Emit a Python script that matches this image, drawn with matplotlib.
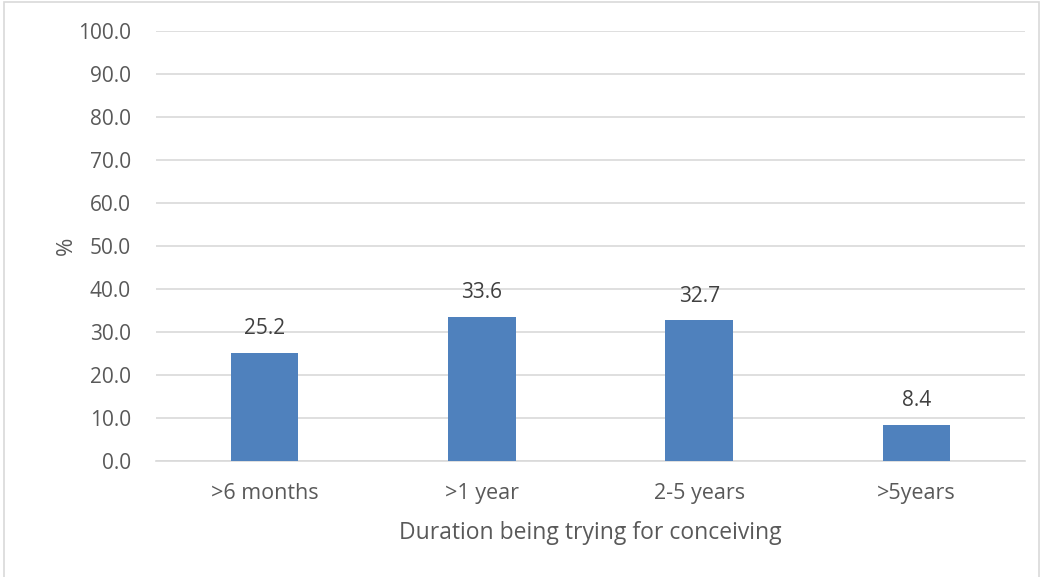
import matplotlib.pyplot as plt
from matplotlib.patches import Rectangle
import numpy as np

# Data
categories = ['>6 months', '>1 year', '2-5 years', '>5years']
percent = [25.2, 33.6, 32.7, 8.4]
yticks = np.arange(0, 101, 10)

plt.rcParams['font.family'] = ['Open Sans', 'DejaVu Sans']

fig = plt.figure(figsize=(10.43, 5.77), dpi=100)
ax = fig.add_axes([156 / 1043, 1 - 461 / 577, 869 / 1043, 430 / 577])

x = np.arange(len(categories))
ax.bar(x, percent, width=0.31, color='#4F81BD', zorder=3)

# value labels above bars
for xi, v in zip(x, percent):
    ax.text(xi, v + 3.2, f'{v:.1f}', ha='center', va='bottom',
            fontsize=15, color='#404040')

ax.set_xlim(-0.5, len(categories) - 0.5)
ax.set_ylim(0, 100)
ax.set_yticks(yticks)
ax.set_yticklabels([f'{t:.1f}' for t in yticks], fontsize=15, color='#595959')
ax.set_xticks(x)
ax.set_xticklabels(categories, fontsize=15.5, color='#595959')
ax.tick_params(axis='y', length=0, pad=18)
ax.tick_params(axis='x', length=0, pad=16)

ax.grid(axis='y', color='#D9D9D9', linewidth=1.2, zorder=0)
for side in ['top', 'right', 'left']:
    ax.spines[side].set_visible(False)
ax.spines['bottom'].set_color('#D9D9D9')
ax.spines['bottom'].set_linewidth(1.2)

ax.set_xlabel('Duration being trying for conceiving', fontsize=16.5,
              color='#595959', labelpad=12)
ax.set_ylabel('%', fontsize=16, color='#595959', labelpad=1)

# light chart border
fig.patches.append(Rectangle((4 / 1043, -0.01), 1035 / 1043, 1 - 2 / 577 + 0.01,
                             transform=fig.transFigure, fill=False,
                             edgecolor='#D9D9D9', linewidth=1.2))

fig.savefig('out.png', dpi=100)
